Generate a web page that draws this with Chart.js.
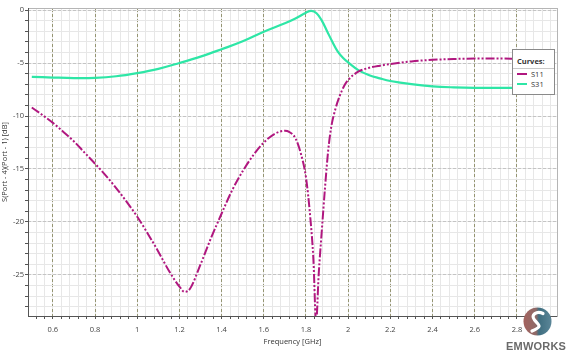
<!DOCTYPE html>
<html>
<head>
<meta charset="utf-8">
<script src="https://cdn.jsdelivr.net/npm/chart.js@4/dist/chart.umd.min.js"></script>
<style>
  html, body { margin: 0; padding: 0; background: #ffffff; }
  #wrap { position: relative; width: 581px; height: 360px; overflow: hidden; }
  #legend { position: absolute; left: 512px; top: 49px; width: 43px; height: 46px;
            background: #fff; border: 1px solid #8a8a8a; box-sizing: border-box;
            font-family: "Open Sans", "DejaVu Sans", sans-serif; font-size: 7.5px; color: #333; }
  #legend .hd { font-weight: bold; padding: 6px 0 0 4px; height: 12px; border-bottom: 1px solid #c8c8c8; }
  #legend .it { display: flex; align-items: center; height: 10px; padding-left: 4px; }
  #legend .it:first-of-type { margin-top: 3px; }
  #legend .sw { width: 10px; height: 2px; margin-right: 4px; }
  #logo { position: absolute; left: 522px; top: 306px; width: 31px; height: 31px; }
  #brand { position: absolute; left: 506px; top: 340px; font-family: "Liberation Sans", Arial, sans-serif;
           font-weight: bold; font-size: 11px; color: #6a6a6a; letter-spacing: 0.2px; }
</style>
</head>
<body>
<div id="wrap">
  <canvas id="c" width="581" height="360"></canvas>
  <div id="legend"></div>
  <svg id="logo" viewBox="0 0 31 31">
    <defs>
      <linearGradient id="g" x1="0" y1="0" x2="1" y2="0">
        <stop offset="0" stop-color="#a4625e"/>
        <stop offset="0.45" stop-color="#8e6a68"/>
        <stop offset="0.55" stop-color="#3f6e80"/>
        <stop offset="1" stop-color="#5b8698"/>
      </linearGradient>
    </defs>
    <circle cx="15.5" cy="15.5" r="14" fill="url(#g)"/>
    <path d="M21 7.5 C15 4.5, 8 8.5, 12.5 14 S 21 20, 10 25" stroke="#ffffff" stroke-width="3.2" fill="none" stroke-linecap="round"/>
  </svg>
  <div id="brand">EMWORKS</div>
</div>
<script>
// ---- Data ----
const s11Freq = [0.5,0.55,0.6,0.65,0.7,0.75,0.8,0.85,0.9,0.95,1.0,1.05,1.1,1.15,1.2,1.225,1.25,1.3,1.35,1.4,1.45,1.5,1.55,1.6,1.65,1.7,1.72,1.75,1.775,1.8,1.82,1.835,1.848,1.86,1.875,1.89,1.905,1.92,1.94,1.96,1.98,2.0,2.05,2.1,2.15,2.2,2.3,2.4,2.5,2.6,2.7,2.8,2.9];
const s11Vals = [-9.2,-9.9,-10.65,-11.5,-12.4,-13.45,-14.5,-15.6,-16.8,-18.1,-19.5,-21.1,-22.8,-24.6,-26.1,-26.6,-26.3,-24.0,-21.5,-19.2,-17.0,-15.2,-13.7,-12.5,-11.7,-11.4,-11.5,-12.1,-13.5,-15.8,-19.5,-23.5,-29.5,-25.0,-20.8,-16.8,-13.3,-11.0,-9.3,-8.1,-7.2,-6.6,-5.8,-5.45,-5.25,-5.1,-4.85,-4.7,-4.62,-4.58,-4.58,-4.6,-4.62];

const s31Freq = [0.5,0.6,0.7,0.8,0.9,1.0,1.1,1.2,1.3,1.4,1.5,1.6,1.7,1.75,1.8,1.825,1.85,1.875,1.9,1.925,1.95,1.975,2.0,2.05,2.1,2.15,2.2,2.3,2.4,2.5,2.6,2.7,2.8,2.9];
const s31Vals = [-6.3,-6.37,-6.42,-6.4,-6.25,-5.95,-5.55,-5.0,-4.4,-3.7,-2.95,-2.05,-1.25,-0.8,-0.25,-0.08,-0.3,-1.0,-2.0,-3.0,-3.9,-4.5,-4.95,-5.7,-6.15,-6.45,-6.7,-7.0,-7.2,-7.3,-7.35,-7.35,-7.35,-7.3];

const seriesNames = ['S11', 'S31'];
const xTickValues = [0.6,0.8,1.0,1.2,1.4,1.6,1.8,2.0,2.2,2.4,2.6,2.8];
const xTickLabels = ['0.6','0.8','1','1.2','1.4','1.6','1.8','2','2.2','2.4','2.6','2.8'];
const xMinorValues = [0.52,0.56,0.6,0.64,0.68,0.72,0.76,0.8,0.84,0.88,0.92,0.96,1.0,1.04,1.08,1.12,1.16,1.2,1.24,1.28,1.32,1.36,1.4,1.44,1.48,1.52,1.56,1.6,1.64,1.68,1.72,1.76,1.8,1.84,1.88,1.92,1.96,2.0,2.04,2.08,2.12,2.16,2.2,2.24,2.28,2.32,2.36,2.4,2.44,2.48,2.52,2.56,2.6,2.64,2.68,2.72,2.76,2.8,2.84,2.88,2.92,2.96];
const yTickValues = [0,-5,-10,-15,-20,-25];
const yTickLabels = ['0','-5','-10','-15','-20','-25'];
const yMinorValues = [0,-1,-2,-3,-4,-5,-6,-7,-8,-9,-10,-11,-12,-13,-14,-15,-16,-17,-18,-19,-20,-21,-22,-23,-24,-25,-26,-27,-28];

// ---- Chart ----
const X_MIN = 0.482, X_MAX = 2.99, Y_MIN = -28.87, Y_MAX = 0.19;
const colS11 = '#b0177f', colS31 = '#2ee6a6';
const tickFont = { family: '"Open Sans", "DejaVu Sans", sans-serif', size: 7.5 };
const near = (a, b) => Math.abs(a - b) < 1e-6;
const labelFor = (v, vals, labs) => { const i = vals.findIndex(t => near(t, v)); return i >= 0 ? labs[i] : ''; };

const toPts = (xs, ys) => xs.map((x, i) => ({ x: x, y: ys[i] }));

const chart = new Chart(document.getElementById('c'), {
  type: 'line',
  data: {
    datasets: [
      { label: seriesNames[0], data: toPts(s11Freq, s11Vals), borderColor: colS11, backgroundColor: colS11,
        borderWidth: 2, borderDash: [9, 2, 2, 2, 2, 2], pointRadius: 0, cubicInterpolationMode: 'monotone', fill: false },
      { label: seriesNames[1], data: toPts(s31Freq, s31Vals), borderColor: colS31, backgroundColor: colS31,
        borderWidth: 2.2, pointRadius: 0, tension: 0.4, fill: false }
    ]
  },
  options: {
    responsive: false,
    animation: false,
    events: [],
    layout: { padding: { top: 8, right: 24, left: 0, bottom: 0 } },
    plugins: { legend: { display: false }, tooltip: { enabled: false } },
    scales: {
      x: {
        type: 'linear', position: 'bottom', min: X_MIN, max: X_MAX,
        afterBuildTicks: s => { s.ticks = xMinorValues.map(v => ({ value: v })); },
        afterFit: s => { s.height = 44; },
        ticks: { autoSkip: false, maxRotation: 0, minRotation: 0, padding: 6, color: '#444', font: tickFont,
                 callback: v => labelFor(v, xTickValues, xTickLabels) },
        grid: { color: '#e7e7e7', lineWidth: 1, drawTicks: true, tickLength: 3, tickColor: '#555', tickWidth: 1 },
        border: { display: true, color: '#555', width: 1 },
        title: { display: true, text: 'Frequency [GHz]', color: '#333', font: tickFont, padding: { top: 0, bottom: 14 } }
      },
      xMajor: {
        type: 'linear', position: 'top', min: X_MIN, max: X_MAX,
        afterBuildTicks: s => { s.ticks = xTickValues.map(v => ({ value: v })); },
        afterFit: s => { s.height = 0; },
        ticks: { display: false },
        grid: { color: '#959572', lineWidth: 1, drawTicks: false },
        border: { display: true, color: '#b5b5b5', width: 1, dash: [3, 2] }
      },
      y: {
        type: 'linear', position: 'left', min: Y_MIN, max: Y_MAX,
        afterBuildTicks: s => { s.ticks = yMinorValues.map(v => ({ value: v })); },
        afterFit: s => { s.width = 28; },
        ticks: { autoSkip: false, padding: 1, color: '#444', font: tickFont,
                 callback: v => labelFor(v, yTickValues, yTickLabels) },
        grid: { color: '#e7e7e7', lineWidth: 1, drawTicks: true, tickLength: 3, tickColor: '#555', tickWidth: 1 },
        border: { display: true, color: '#555', width: 1 },
        title: { display: true, text: 'S(Port - 4)(Port - 1) [dB]', color: '#333', font: tickFont, padding: { top: 0, bottom: 0 } }
      },
      yMajor: {
        type: 'linear', position: 'right', min: Y_MIN, max: Y_MAX,
        afterBuildTicks: s => { s.ticks = yTickValues.map(v => ({ value: v })); },
        afterFit: s => { s.width = 0; },
        ticks: { display: false },
        grid: { color: '#c4c4c4', lineWidth: 1, drawTicks: false },
        border: { display: true, color: '#b5b5b5', width: 1, dash: [3, 2] }
      }
    }
  }
});

// HTML legend built from the chart's datasets
const leg = document.getElementById('legend');
const hd = document.createElement('div'); hd.className = 'hd'; hd.textContent = 'Curves:'; leg.appendChild(hd);
chart.data.datasets.forEach(ds => {
  const it = document.createElement('div'); it.className = 'it';
  const sw = document.createElement('span'); sw.className = 'sw'; sw.style.background = ds.borderColor;
  const tx = document.createElement('span'); tx.textContent = ds.label;
  it.appendChild(sw); it.appendChild(tx); leg.appendChild(it);
});
</script>
</body>
</html>
